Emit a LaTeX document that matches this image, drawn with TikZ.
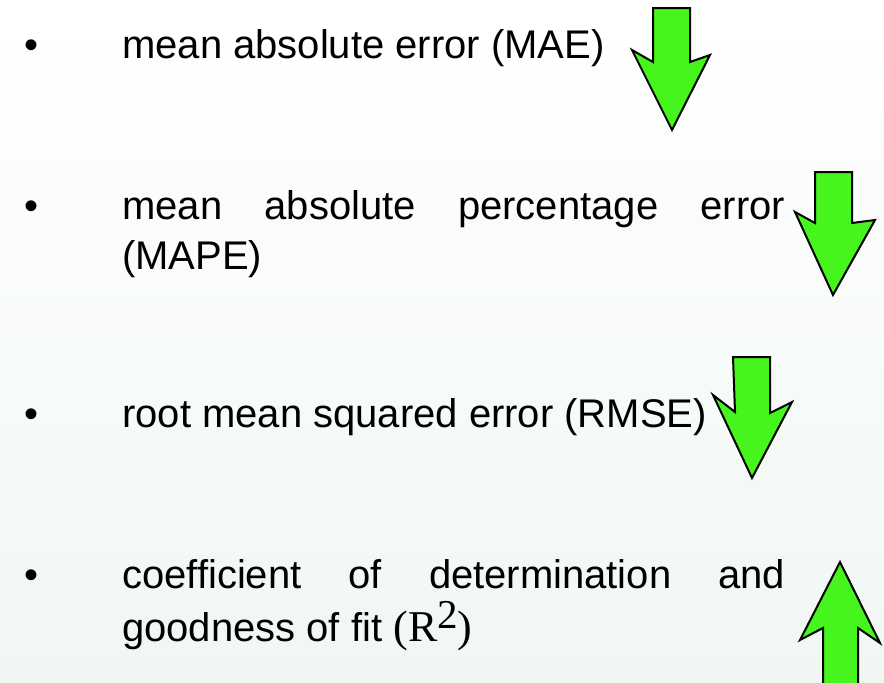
\documentclass[tikz,border=0pt]{standalone}
\usepackage{fontspec}
\usepackage{graphicx}
\setmainfont{Liberation Sans}
\newfontfamily\serifR{Liberation Serif}
\definecolor{arrowgreen}{RGB}{70,245,30}
\definecolor{bgbottom}{RGB}{240,247,243}
\begin{document}
\begin{tikzpicture}[x=1pt,y=-1pt,
  txt/.style={anchor=base west,inner sep=0pt,font=\fontsize{40}{50}\selectfont},
  bul/.style={anchor=base,inner sep=0pt,font=\fontsize{40}{50}\selectfont},
  arr/.style={fill=arrowgreen,draw=black,line width=2pt,line join=miter}]
\useasboundingbox (0,0) rectangle (884,683);
\shade[top color=white,bottom color=bgbottom] (0,0) rectangle (884,683);
% bullets
\node[bul] (b1) at (32,58) {\textbullet};
\node[bul] (b2) at (32,219) {\textbullet};
\node[bul] (b3) at (32,427) {\textbullet};
\node[bul] (b4) at (32,588) {\textbullet};
% texts
\node[txt] (t1) at (122,58) {mean absolute error (MAE)};
\node[txt] (t2a) at (122,219) {\hbox to 663pt{mean\hfil absolute\hfil percentage\hfil error}};
\node[txt] (t2b) at (122,269) {(MAPE)};
\node[txt] (t3) at (122,427) {root mean squared error (RMSE)};
\node[txt] (t4a) at (122,588) {\hbox to 663pt{coefficient\hfil of\hfil determination\hfil and}};
\node[txt] (t4b) at (122,641) {goodness of fit {\serifR\fontsize{44}{50}\selectfont (R\raisebox{13pt}{\fontsize{41}{42}\selectfont 2})}};
% arrows
\begin{scope}
\clip (0,0) rectangle (884,683);
\draw[arr] (653,8) -- (690,8) -- (690,62) -- (710,55) -- (672,130) -- (632,50) -- (653,62) -- cycle;
\draw[arr] (815,172) -- (852,172) -- (852,223) -- (875,220) -- (833,295) -- (795,212) -- (815,223) -- cycle;
\draw[arr] (733,357) -- (770,357) -- (770,413) -- (792,402) -- (752,478) -- (713,395) -- (735,412) -- cycle;
\draw[arr] (840,562) -- (880,643) -- (858,628) -- (858,695) -- (823,695) -- (823,628) -- (800,640) -- cycle;
\end{scope}
\end{tikzpicture}
\end{document}
